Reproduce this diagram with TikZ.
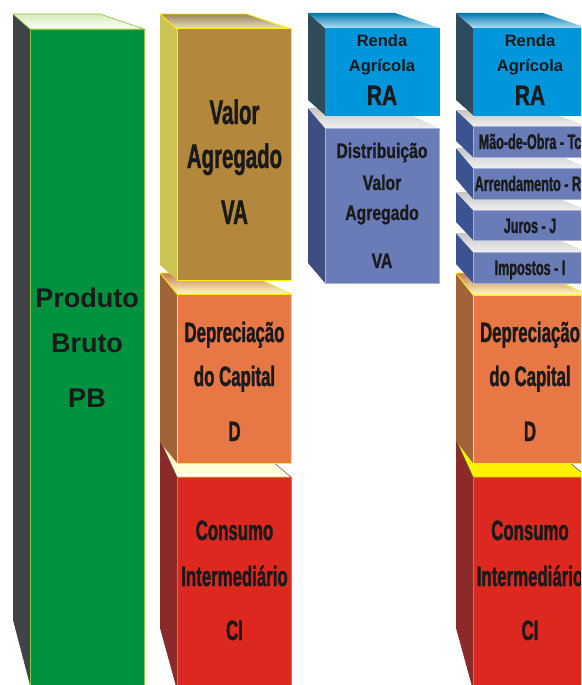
\documentclass[tikz,border=0pt]{standalone}
\usepackage{fontspec}
\setmainfont{Liberation Sans}
\newfontfamily\estreita[FakeStretch=0.6,FakeBold=1.2]{Liberation Sans}
\newfontfamily\media[FakeStretch=0.75,FakeBold=1]{Liberation Sans}

\definecolor{pbFrente}{RGB}{0,146,63}
\definecolor{pbLado}{RGB}{64,68,71}
\definecolor{pbBorda}{RGB}{140,198,63}
\definecolor{vaFrente}{RGB}{179,135,60}
\definecolor{vaLado}{RGB}{204,196,80}
\definecolor{amarelo}{RGB}{255,242,0}
\definecolor{dcFrente}{RGB}{232,119,70}
\definecolor{dcLado}{RGB}{160,100,56}
\definecolor{ciFrente}{RGB}{220,40,30}
\definecolor{ciLado}{RGB}{140,42,42}
\definecolor{ciBorda}{RGB}{230,110,30}
\definecolor{raFrente}{RGB}{0,150,220}
\definecolor{raLado}{RGB}{45,75,90}
\definecolor{dvFrente}{RGB}{105,124,184}
\definecolor{dvLado}{RGB}{62,78,128}
\definecolor{faLado}{RGB}{58,84,145}
\definecolor{texto}{RGB}{26,26,26}

% caixa: esquerda, topo fundo, topo frente, base, direita, queda do lado, estilo
\newcommand{\caixa}[7]{%
  \fill[#7 lado] (#1,#2) -- (#1+17,#3) -- (#1+17,#4) -- (#1,#4-#6) -- cycle;
  \shade[#7 topo] (#1,#2) -- (#5-44,#2) -- (#5,#3) -- (#1+17,#3) -- cycle;
  \filldraw[#7 frente] (#1+17,#3) rectangle (#5,#4);
}

\begin{document}
\begin{tikzpicture}[x=1pt,y=-1pt,
    pb lado/.style={fill=pbLado},
    pb topo/.style={top color=pbBorda!35, bottom color=white, draw=pbBorda, line width=0.7},
    pb frente/.style={fill=pbFrente, draw=pbBorda, line width=0.8},
    va lado/.style={fill=vaLado},
    va topo/.style={top color=vaFrente!60!gray, bottom color=vaFrente!25!white, draw=amarelo, line width=0.8},
    va frente/.style={fill=vaFrente, draw=amarelo, line width=1},
    dc lado/.style={fill=dcLado},
    dc topo/.style={top color=dcFrente!70!gray, bottom color=amarelo!25!white, draw=amarelo, line width=0.8},
    dc frente/.style={fill=dcFrente, draw=amarelo, line width=1},
    ci lado/.style={fill=ciLado},
    ci topo/.style={top color=amarelo!35!white, bottom color=amarelo!10!white, draw=black!70, line width=0.5},
    ci frente/.style={fill=ciFrente, draw=ciBorda, line width=0.8},
    cy lado/.style={fill=ciLado},
    cy topo/.style={top color=amarelo, bottom color=amarelo, draw=black!70, line width=0.5},
    cy frente/.style={fill=ciFrente, draw=ciBorda, line width=0.8},
    ra lado/.style={fill=raLado},
    ra topo/.style={top color=raFrente!80!black, bottom color=raFrente!30!white},
    ra frente/.style={fill=raFrente, draw=raFrente},
    dv lado/.style={fill=dvLado},
    dv topo/.style={top color=gray!45, bottom color=gray!12},
    dv frente/.style={fill=dvFrente, draw=dvFrente!60!white, line width=0.5},
    fa lado/.style={fill=faLado},
    fa topo/.style={top color=gray!45, bottom color=gray!12},
    fa frente/.style={fill=dvFrente, draw=dvFrente!60!white, line width=0.5},
    txtpb/.style={anchor=base, text=texto, font=\bfseries\fontsize{27}{27}\selectfont},
    txtva/.style={anchor=base, text=texto, font=\estreita\bfseries\fontsize{34}{34}\selectfont},
    txtdc/.style={anchor=base, text=texto, font=\estreita\bfseries\fontsize{28}{28}\selectfont},
    txtra/.style={anchor=base, text=texto, font=\bfseries\fontsize{16.5}{16.5}\selectfont},
    txtsg/.style={anchor=base, text=texto, font=\media\bfseries\fontsize{28}{28}\selectfont},
    txtdv/.style={anchor=base, text=texto, font=\media\bfseries\fontsize{21}{21}\selectfont},
    txtfa/.style={anchor=base, text=texto, font=\estreita\bfseries\fontsize{21}{21}\selectfont}]
  \useasboundingbox (0,0) rectangle (581,685);
  \clip (0,0) rectangle (581,685);

  % coluna 1
  \caixa{13}{14}{29}{685}{144}{65}{pb}
  \node[txtpb] (pb1) at (87,307) {Produto};
  \node[txtpb] (pb2) at (87,352) {Bruto};
  \node[txtpb] (pb3) at (87,407) {PB};

  % coluna 2
  \caixa{160}{440}{477}{690}{291}{62}{ci}
  \caixa{160}{273}{294}{463}{291}{21}{dc}
  \caixa{160}{14}{29}{280}{291}{15}{va}
  \node[txtva] (va1) at (234.5,124) {Valor};
  \node[txtva] (va2) at (234.5,168) {Agregado};
  \node[txtva] (va3) at (234.5,224) {VA};
  \node[txtdc] (dc1) at (234.5,342) {Depreciação};
  \node[txtdc] (dc2) at (234.5,386) {do Capital};
  \node[txtdc] (dc3) at (234.5,441) {D};
  \node[txtdc] (ci1) at (234.5,540) {Consumo};
  \node[txtdc] (ci2) at (234.5,586) {Intermediário};
  \node[txtdc] (ci3) at (234.5,640) {CI};

  % coluna 3
  \caixa{308}{108}{128}{283}{439}{20}{dv}
  \caixa{308}{13}{28}{115}{439}{15}{ra}
  \node[txtra] (ra1) at (382,47) {Renda};
  \node[txtra] (ra2) at (382,71) {Agrícola};
  \node[txtsg] (ra3) at (382,105) {RA};
  \node[txtdv] (dv1) at (382,158) {Distribuição};
  \node[txtdv] (dv2) at (382,190) {Valor};
  \node[txtdv] (dv3) at (382,220) {Agregado};
  \node[txtdv] (dv4) at (382,268) {VA};

  % coluna 4
  \caixa{456}{440}{477}{690}{587}{62}{cy}
  \caixa{456}{273}{295}{463}{587}{22}{dc}
  \caixa{456}{233}{252}{283}{587}{19}{fa}
  \caixa{456}{192}{210}{240}{587}{18}{fa}
  \caixa{456}{148}{168}{199}{587}{20}{fa}
  \caixa{456}{110}{126}{157}{587}{16}{fa}
  \caixa{456}{13}{28}{115}{587}{15}{ra}
  \node[txtra] (rb1) at (530,47) {Renda};
  \node[txtra] (rb2) at (530,71) {Agrícola};
  \node[txtsg] (rb3) at (530,105) {RA};
  \node[txtfa] (fa1) at (530,149) {Mão-de-Obra - Tc};
  \node[txtfa] (fa2) at (530,191) {Arrendamento - Rt};
  \node[txtfa] (fa3) at (530,233) {Juros - J};
  \node[txtfa] (fa4) at (530,275) {Impostos - I};
  \node[txtdc] (dd1) at (530,342) {Depreciação};
  \node[txtdc] (dd2) at (530,386) {do Capital};
  \node[txtdc] (dd3) at (530,441) {D};
  \node[txtdc] (cj1) at (530,540) {Consumo};
  \node[txtdc] (cj2) at (530,586) {Intermediário};
  \node[txtdc] (cj3) at (530,640) {CI};
\end{tikzpicture}
\end{document}
